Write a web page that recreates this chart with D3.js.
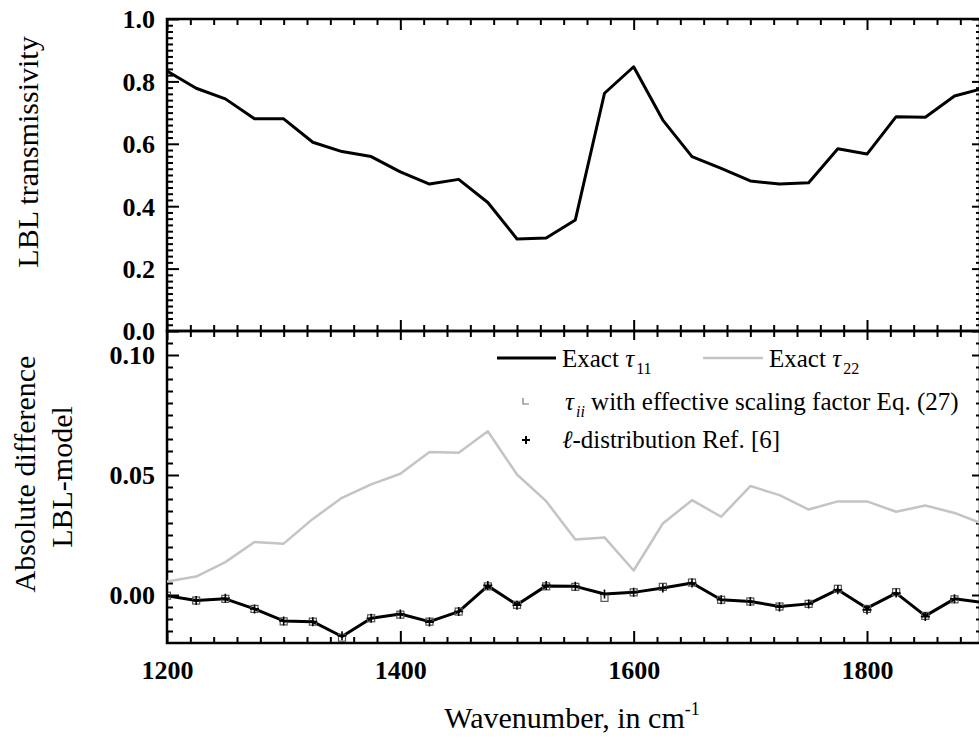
<!DOCTYPE html>
<html><head><meta charset="utf-8">
<script src="https://cdn.jsdelivr.net/npm/d3@7"></script>
<style>
html,body{margin:0;padding:0;background:#fff;}
svg, svg text{font-family:"Liberation Serif","Tinos","Times New Roman","DejaVu Serif",serif !important;}
</style></head>
<body>
<svg id="chart" width="979" height="742"></svg>
<script>
// ---- data ----
const wavenumbers = [1200,1225,1250,1275,1300,1325,1350,1375,1400,1425,1450,1475,1500,1525,1550,1575,1600,1625,1650,1675,1700,1725,1750,1775,1800,1825,1850,1875,1900];
const lblTransmissivity = [0.833,0.778,0.744,0.680,0.680,0.605,0.575,0.559,0.510,0.471,0.486,0.412,0.295,0.298,0.356,0.762,0.847,0.676,0.559,0.521,0.481,0.471,0.475,0.584,0.567,0.687,0.685,0.753,0.778];
const diffTau11 = [-0.0003,-0.0023,-0.0016,-0.0058,-0.0108,-0.0111,-0.0173,-0.0097,-0.0079,-0.0111,-0.0069,0.0038,-0.0041,0.0038,0.0036,0.0004,0.0011,0.0029,0.0050,-0.0020,-0.0027,-0.0048,-0.0037,0.0022,-0.0055,0.0008,-0.0087,-0.0016,-0.0032];
const diffTau22 = [0.0056,0.0077,0.0137,0.0221,0.0214,0.0317,0.0405,0.0461,0.0505,0.0596,0.0593,0.0682,0.0502,0.0391,0.0231,0.0240,0.0102,0.0298,0.0395,0.0326,0.0454,0.0416,0.0356,0.0390,0.0390,0.0347,0.0373,0.0342,0.0295];
const diffScaled = [-0.0003,-0.0023,-0.0016,-0.0058,-0.0110,-0.0111,-0.0178,-0.0097,-0.0082,-0.0111,-0.0069,0.0036,-0.0041,0.0036,0.0034,-0.0012,0.0011,0.0034,0.0052,-0.0020,-0.0027,-0.0048,-0.0037,0.0026,-0.0058,0.0012,-0.0087,-0.0018,-0.0032];
const diffLdist = [-0.0003,-0.0023,-0.0014,-0.0058,-0.0108,-0.0111,-0.0170,-0.0097,-0.0079,-0.0113,-0.0069,0.0040,-0.0043,0.0040,0.0036,0.0004,0.0011,0.0029,0.0050,-0.0020,-0.0027,-0.0050,-0.0037,0.0022,-0.0062,0.0008,-0.0090,-0.0016,-0.0032];
const xTicks = [1200,1400,1600,1800];
const topYTicks = [0.0,0.2,0.4,0.6,0.8,1.0];
const botYTicks = [0.00,0.05,0.10];

// ---- layout ----
const FONT = "Liberation Serif, Tinos, Times New Roman, DejaVu Serif, serif";
const L = 167, R = 980;
const topT = 19, topB = 331, botT = 331, botB = 643;
const svg = d3.select("#chart").attr("font-family", FONT);

const x = d3.scaleLinear().domain([1200,1800]).range([L, L+700]);
const yTop = d3.scaleLinear().domain([0,1]).range([topB, topT]);
const yBot = d3.scaleLinear().domain([-0.02,0.11]).range([botB, botT]);

const xMinorTicks = [];
for (let v = 1220; v < 1900; v += 20) if (v % 200 !== 0) xMinorTicks.push(v);

const defs = svg.append("defs");
defs.append("clipPath").attr("id","clipTop").append("rect").attr("x",L).attr("y",topT).attr("width",R-L).attr("height",topB-topT);
defs.append("clipPath").attr("id","clipBot").append("rect").attr("x",L).attr("y",botT).attr("width",R-L).attr("height",botB-botT);

function styleAxis(g, w){
  g.attr("font-family", FONT);
  g.select(".domain").remove();
  g.selectAll(".tick line").attr("stroke","#000").attr("stroke-width", w);
}
function noLabel(g){ g.selectAll("text").remove(); }

function xAxes(yPos, dir, major, minor){
  const mk = dir === "top" ? d3.axisTop : d3.axisBottom;
  svg.append("g").attr("transform",`translate(0,${yPos})`)
    .call(mk(x).tickValues(xTicks).tickSize(-major).tickFormat(""))
    .call(g=>styleAxis(g,2)).call(noLabel);
  svg.append("g").attr("transform",`translate(0,${yPos})`)
    .call(mk(x).tickValues(xMinorTicks).tickSize(-minor).tickFormat(""))
    .call(g=>styleAxis(g,2)).call(noLabel);
}
xAxes(topT, "top", 11, 6);
xAxes(topB, "bottom", 11, 6);
xAxes(botT, "top", 9, 6);

svg.append("g").attr("transform",`translate(0,${botB})`)
  .call(d3.axisBottom(x).tickValues(xTicks).tickSize(-12).tickFormat(d3.format("d")))
  .call(g=>styleAxis(g,2))
  .call(g=>g.selectAll("text").attr("y",18).attr("dy","0.71em")
     .attr("font-size",26).attr("font-weight","bold").attr("fill","#000"));
svg.append("g").attr("transform",`translate(0,${botB})`)
  .call(d3.axisBottom(x).tickValues(xMinorTicks).tickSize(-6).tickFormat(""))
  .call(g=>styleAxis(g,2)).call(noLabel);

function yAxes(scale, ticks, minorTicks, fmt){
  svg.append("g").attr("transform",`translate(${L},0)`)
    .call(d3.axisLeft(scale).tickValues(ticks).tickSize(-12).tickFormat(d3.format(fmt)))
    .call(g=>styleAxis(g,2))
    .call(g=>g.selectAll("text").attr("x",-12).attr("dy","0.34em")
      .attr("font-size",26).attr("font-weight","bold").attr("fill","#000"));
  svg.append("g").attr("transform",`translate(${L},0)`)
    .call(d3.axisLeft(scale).tickValues(minorTicks).tickSize(-6).tickFormat(""))
    .call(g=>styleAxis(g,2)).call(noLabel);
  svg.append("g").attr("transform",`translate(${R},0)`)
    .call(d3.axisRight(scale).tickValues(ticks).tickSize(-8).tickFormat(""))
    .call(g=>styleAxis(g,2)).call(noLabel);
  svg.append("g").attr("transform",`translate(${R},0)`)
    .call(d3.axisRight(scale).tickValues(minorTicks).tickSize(-4).tickFormat(""))
    .call(g=>styleAxis(g,2)).call(noLabel);
}
const topMinor = []; for (let i=1;i<50;i++){ if (i%10!==0) topMinor.push(i/50); }
const botMinor = []; for (let i=-3;i<22;i++){ if (i%10!==0) botMinor.push(i*0.005); }
yAxes(yTop, topYTicks, topMinor, ".1f");
yAxes(yBot, botYTicks, botMinor.filter(v=>v>-0.0201 && v<0.1101), ".2f");

svg.append("rect").attr("x",L).attr("y",topT).attr("width",R-L).attr("height",topB-topT)
  .attr("fill","none").attr("stroke","#000").attr("stroke-width",2.5);
svg.append("rect").attr("x",L).attr("y",botT).attr("width",R-L).attr("height",botB-botT)
  .attr("fill","none").attr("stroke","#000").attr("stroke-width",2.5);

const lineTop = d3.line().x((d,i)=>x(wavenumbers[i])).y(d=>yTop(d));
svg.append("path").attr("clip-path","url(#clipTop)").datum(lblTransmissivity)
  .attr("d",lineTop).attr("fill","none").attr("stroke","#000").attr("stroke-width",3).attr("stroke-linejoin","round");

const lineBot = d3.line().x((d,i)=>x(wavenumbers[i])).y(d=>yBot(d));
const gb = svg.append("g").attr("clip-path","url(#clipBot)");
gb.append("path").datum(diffTau22).attr("d",lineBot).attr("fill","none")
  .attr("stroke","#c4c4c4").attr("stroke-width",2.5).attr("stroke-linejoin","round");
gb.append("path").datum(diffTau11).attr("d",lineBot).attr("fill","none")
  .attr("stroke","#000").attr("stroke-width",3).attr("stroke-linejoin","round");
gb.selectAll("rect.sq").data(diffScaled).enter().append("rect").attr("class","sq")
  .attr("x",(d,i)=>x(wavenumbers[i])-3.5).attr("y",d=>yBot(d)-3.5)
  .attr("width",7).attr("height",7).attr("fill","none").attr("stroke","#555").attr("stroke-width",1.2);
gb.selectAll("path.pl").data(diffLdist).enter().append("path").attr("class","pl")
  .attr("d",(d,i)=>{const cx=x(wavenumbers[i]), cy=yBot(d); return `M${cx-4.5},${cy}H${cx+4.5}M${cx},${cy-4.5}V${cy+4.5}`;})
  .attr("stroke","#000").attr("stroke-width",1.6);

const lg = svg.append("g").attr("font-size",25).attr("fill","#000");
lg.append("line").attr("x1",497).attr("x2",556).attr("y1",358).attr("y2",358).attr("stroke","#000").attr("stroke-width",3);
const t1 = lg.append("text").attr("x",562).attr("y",367);
t1.append("tspan").text("Exact ");
t1.append("tspan").attr("font-style","italic").text("τ");
t1.append("tspan").attr("font-size",16).attr("dy",7).attr("dx",2).text("11");
lg.append("line").attr("x1",703).attr("x2",763).attr("y1",358).attr("y2",358).attr("stroke","#c4c4c4").attr("stroke-width",2.5);
const t2 = lg.append("text").attr("x",769).attr("y",367);
t2.append("tspan").text("Exact ");
t2.append("tspan").attr("font-style","italic").text("τ");
t2.append("tspan").attr("font-size",16).attr("dy",7).attr("dx",2).text("22");
lg.append("path").attr("d","M523,398V404H529").attr("fill","none").attr("stroke","#777").attr("stroke-width",1.2);
const t3 = lg.append("text").attr("x",565).attr("y",410);
t3.append("tspan").attr("font-style","italic").text("τ");
t3.append("tspan").attr("font-size",16).attr("font-style","italic").attr("dy",7).attr("dx",2).text("ii");
t3.append("tspan").attr("dy",-7).text(" with effective scaling factor Eq. (27)");
lg.append("path").attr("d","M522,440H530M526,436V444").attr("stroke","#000").attr("stroke-width",2);
const t4 = lg.append("text").attr("x",562).attr("y",448);
t4.append("tspan").attr("font-style","italic").text("ℓ");
t4.append("tspan").text("-distribution Ref. [6]");

svg.append("text").attr("transform","translate(38,152) rotate(-90)").attr("text-anchor","middle")
  .attr("font-size",30).text("LBL transmissivity");
svg.append("text").attr("transform","translate(35,474) rotate(-90)").attr("text-anchor","middle")
  .attr("font-size",30).text("Absolute difference");
svg.append("text").attr("transform","translate(72,477) rotate(-90)").attr("text-anchor","middle")
  .attr("font-size",30).text("LBL-model");
const xt = svg.append("text").attr("x",572).attr("y",728).attr("text-anchor","middle").attr("font-size",30);
xt.append("tspan").text("Wavenumber, in cm");
xt.append("tspan").attr("font-size",18).attr("dy",-13).text("-1");
</script>
</body></html>
